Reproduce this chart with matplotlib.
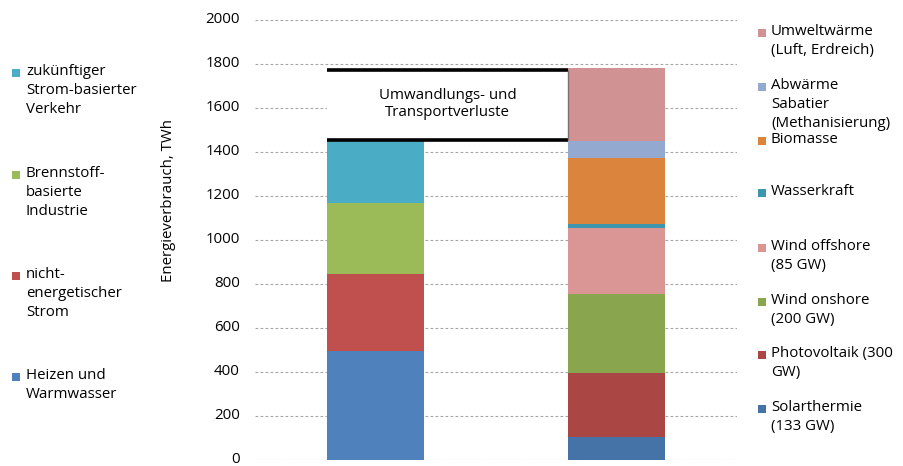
import matplotlib
matplotlib.use("Agg")
import matplotlib.pyplot as plt
from matplotlib.patches import Rectangle

# left bar: final energy demand (TWh), bottom to top
DEMAND_LABELS = ["Heizen und\nWarmwasser", "nicht-\nenergetischer\nStrom",
                 "Brennstoff-\nbasierte\nIndustrie", "zukünftiger\nStrom-basierter\nVerkehr"]
DEMAND_VALUES = [493, 350, 323, 286]
DEMAND_COLORS = ["#4F81BD", "#C0504D", "#9BBB59", "#4BACC6"]

# right bar: supply (TWh), bottom to top
SUPPLY_LABELS = ["Solarthermie\n(133 GW)", "Photovoltaik (300\nGW)", "Wind onshore\n(200 GW)",
                 "Wind offshore\n(85 GW)", "Wasserkraft", "Biomasse",
                 "Abwärme\nSabatier\n(Methanisierung)", "Umweltwärme\n(Luft, Erdreich)"]
SUPPLY_VALUES = [102, 291, 359, 300, 20, 300, 76, 332]
SUPPLY_COLORS = ["#4572A7", "#AA4643", "#89A54E", "#D99694", "#3D96AE", "#DB843D",
                 "#93A9CF", "#D09292"]

LOSS_TEXT = "Umwandlungs- und\nTransportverluste"
YTICKS = list(range(0, 2001, 200))

plt.rcParams["font.family"] = ["Open Sans", "DejaVu Sans"]
FS = 10.8

fig = plt.figure(figsize=(9.04, 4.66), dpi=100)
ax = fig.add_axes([255 / 904, 6.5 / 466, 482 / 904, 439.8 / 466])

W = 0.4
bottom = 0
for v, c in zip(DEMAND_VALUES, DEMAND_COLORS):
    ax.bar(0, v, W, bottom=bottom, color=c, zorder=3)
    bottom += v
bottom = 0
for v, c in zip(SUPPLY_VALUES, SUPPLY_COLORS):
    ax.bar(1, v, W, bottom=bottom, color=c, zorder=3)
    bottom += v

# conversion and transport losses between the two totals
lo, hi = sum(DEMAND_VALUES), sum(SUPPLY_VALUES)
x0, x1 = 0 - W / 2, 1 - W / 2
ax.add_patch(Rectangle((x0, lo), x1 - x0, hi - lo, facecolor="white",
                       edgecolor="none", zorder=2))
ax.hlines([lo, hi - 8], x0, x1, colors="black", lw=2.6, zorder=4)
ax.vlines(x1, lo, hi - 8, colors="#7f6f6f", lw=1.0, zorder=4)
ax.text((x0 + x1) / 2, (lo + hi) / 2 + 2, LOSS_TEXT, ha="center", va="center",
        fontsize=FS, linespacing=1.2, zorder=5)

ax.set_xlim(-0.5, 1.5)
ax.set_ylim(0, 2000)
ax.set_yticks(YTICKS)
ax.set_xticks([])
ax.tick_params(axis="y", length=0, pad=11, labelsize=FS)
for lab in ax.get_yticklabels():
    lab.set_verticalalignment("center")
ax.yaxis.grid(True, color="#a6a6a6", lw=0.8, linestyle=(0, (2.5, 2)), zorder=0)
for s in ax.spines.values():
    s.set_visible(False)

fig.text(168 / 904, 1 - 200 / 466, "Energieverbrauch, TWh", rotation=90,
         ha="center", va="center", fontsize=FS)

# legends drawn as text with colour squares
def legend_item(xs, xt, yc, color, label):
    sq = 8
    fig.patches.append(Rectangle(((xs - sq / 2) / 904, 1 - (yc + sq / 2) / 466),
                                 sq / 904, sq / 466, transform=fig.transFigure,
                                 facecolor=color, edgecolor="none"))
    fig.text(xt / 904, 1 - (yc - 9) / 466, label, ha="left", va="top",
             fontsize=FS, linespacing=1.36)

left_y = [377, 276, 175, 73]
for y, c, lab in zip(left_y, DEMAND_COLORS, DEMAND_LABELS):
    legend_item(16, 26, y, c, lab)

right_y = [409, 355, 302, 248, 193, 141, 87, 33]
for y, c, lab in zip(right_y, SUPPLY_COLORS, SUPPLY_LABELS):
    legend_item(762, 771, y, c, lab)

fig.savefig("out.png", dpi=100)
